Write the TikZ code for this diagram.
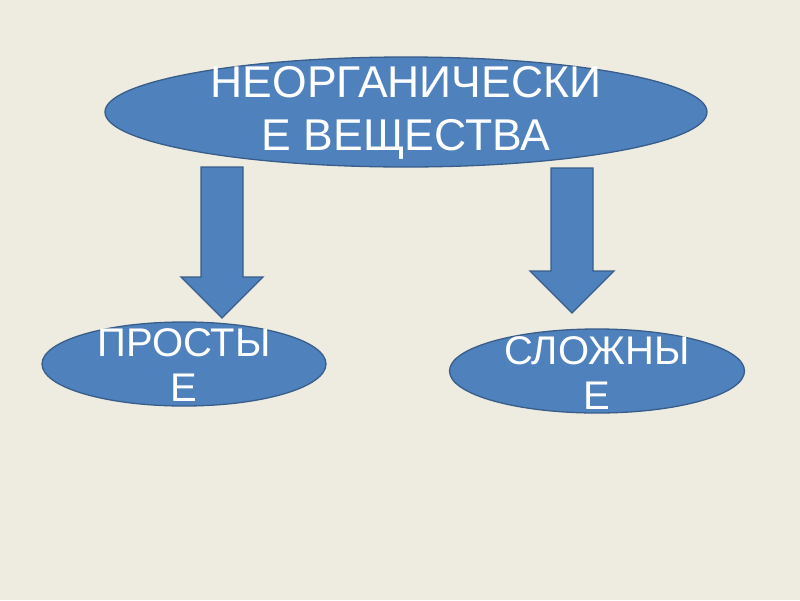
\documentclass[tikz,border=0pt]{standalone}
\usepackage{fontspec}
\setmainfont{Liberation Sans}
\usetikzlibrary{shapes.geometric,positioning}
\definecolor{slidebg}{HTML}{EEECE1}
\definecolor{ovalfill}{HTML}{4F81BD}
\definecolor{ovaldraw}{HTML}{385D8A}

\begin{document}
\begin{tikzpicture}[x=1pt, y=-1pt,
  oval/.style={ellipse, draw=ovaldraw, line width=1.3pt, fill=ovalfill, inner sep=0pt},
  bigtext/.style={text=white, align=center, inner sep=0pt, font=\fontsize{44.5}{53}\selectfont},
  smalltext/.style={text=white, align=center, inner sep=0pt, font=\fontsize{40}{45}\selectfont},
  blockarr/.style={draw=ovaldraw, line width=1.3pt, fill=ovalfill, line join=miter}
]
\fill[slidebg] (0,0) rectangle (800,600);
\useasboundingbox (0,0) rectangle (800,600);

% ovals
\node[oval, minimum width=602pt, minimum height=110pt] (inorg) at (406,112) {};
\node[oval, minimum width=284pt, minimum height=84pt] (simple) at (184,364) {};
\node[oval, minimum width=295pt, minimum height=84pt] (complex) at (597,371) {};

% texts
\node[bigtext] (inorgtxt) at (406,113) {НЕОРГАНИЧЕСКИ\\Е ВЕЩЕСТВА};
\node[smalltext] (simpletxt) at (184,365.5) {ПРОСТЫ\\Е};
\node[smalltext] (complextxt) at (597,373) {СЛОЖНЫ\\Е};

% block arrows
\coordinate (ltop) at (222,167);
\coordinate (ltip) at (222,318);
\coordinate (rtop) at (572,168);
\coordinate (rtip) at (572,313);
\draw[blockarr] (ltop) ++(-21,0) -- ++(42,0) -- ++(0,110) -- ++(20,0) -- (ltip)
  -- ++(-41,-41) -- ++(20,0) -- cycle;
\draw[blockarr] (rtop) ++(-21,0) -- ++(42,0) -- ++(0,103) -- ++(21,0) -- (rtip)
  -- ++(-42,-42) -- ++(21,0) -- cycle;
\end{tikzpicture}
\end{document}
